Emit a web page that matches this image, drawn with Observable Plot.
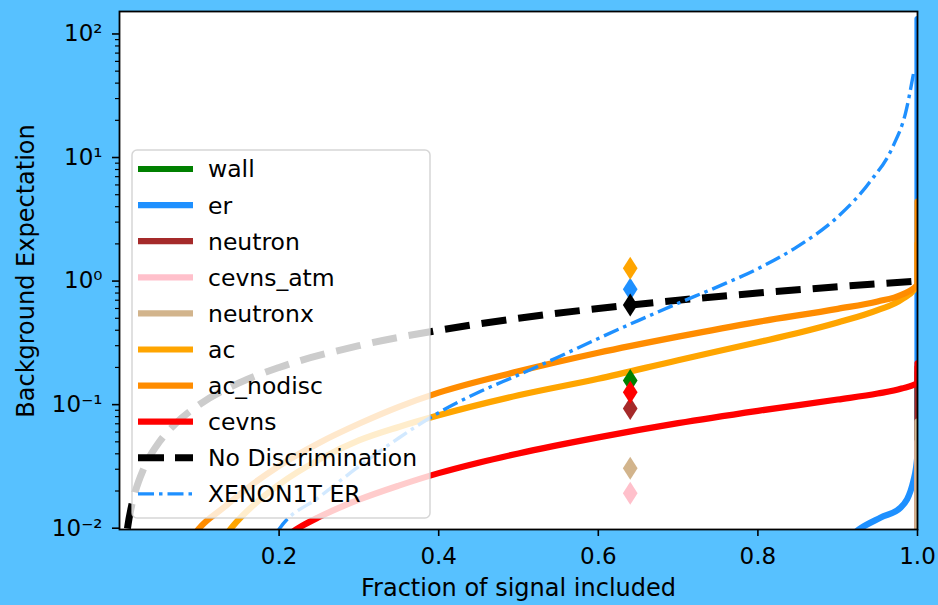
<!DOCTYPE html>
<html><head><meta charset="utf-8">
<script src="https://cdn.jsdelivr.net/npm/d3@7"></script>
<script src="https://cdn.jsdelivr.net/npm/@observablehq/plot@0.6"></script>
<style>
html,body{margin:0;padding:0;background:#57c1ff;}
#chart svg{display:block;}
</style></head><body><div id="chart"></div>
<script>
// ---------- data ----------
const seriesNames = ["wall","er","neutron","cevns_atm","neutronx","ac","ac_nodisc","cevns"];
const seriesColors = ["green","dodgerblue","brown","pink","tan","orange","darkorange","red"];

const wallF = [0.95, 1.0, 1.0];
const wallV = [0.0005, 0.0005, 0.18];
const erF = [0.90, 0.929, 0.954, 0.979, 0.995, 1.0, 1.0];
const erV = [0.007, 0.010, 0.0122, 0.0147, 0.0243, 0.04, 132];
const neutronF = [0.95, 1.0, 1.0];
const neutronV = [0.0005, 0.0005, 0.2];
const cevnsAtmF = [0.95, 1.0, 1.0];
const cevnsAtmV = [0.0005, 0.0005, 0.05];
const neutronxF = [0.95, 1.0, 1.0];
const neutronxV = [0.0005, 0.0005, 0.073];
const acF = [0.12, 0.14, 0.17, 0.20, 0.25, 0.30, 0.35, 0.40, 0.50, 0.60, 0.70, 0.80, 0.85, 0.90, 0.95, 0.98, 1.0, 1.0];
const acV = [0.0065, 0.010, 0.0158, 0.0226, 0.0359, 0.0513, 0.066, 0.082, 0.119, 0.162, 0.229, 0.320, 0.380, 0.462, 0.582, 0.708, 0.933, 2.0];
const acNodiscF = [0.08, 0.10, 0.13, 0.16, 0.20, 0.25, 0.30, 0.35, 0.40, 0.50, 0.60, 0.70, 0.80, 0.90, 0.95, 0.98, 1.0, 1.0];
const acNodiscV = [0.0065, 0.010, 0.0146, 0.021, 0.032, 0.049, 0.070, 0.096, 0.125, 0.186, 0.263, 0.355, 0.468, 0.596, 0.684, 0.776, 0.933, 4.4];
const cevnsF = [0.20, 0.224, 0.25, 0.30, 0.35, 0.40, 0.45, 0.50, 0.60, 0.70, 0.80, 0.90, 0.95, 0.98, 1.0, 1.0];
const cevnsV = [0.0078, 0.010, 0.0123, 0.0170, 0.0221, 0.0279, 0.0339, 0.0403, 0.0543, 0.0708, 0.0891, 0.110, 0.123, 0.135, 0.150, 0.216];

const noDiscF = [0.005, 0.01, 0.015, 0.02, 0.03, 0.05, 0.07, 0.1, 0.15, 0.2, 0.3, 0.4, 0.5, 0.6, 0.7, 0.8, 0.9, 1.0];
const noDiscV = [0.005, 0.01, 0.015, 0.02, 0.03, 0.05, 0.07, 0.1, 0.15, 0.2, 0.3, 0.4, 0.5, 0.6, 0.7, 0.8, 0.9, 1.0];
const xenonF = [0.18, 0.20, 0.25, 0.30, 0.35, 0.40, 0.45, 0.50, 0.55, 0.60, 0.65, 0.70, 0.75, 0.80, 0.85, 0.90, 0.94, 0.97, 0.985, 0.995];
const xenonV = [0.0058, 0.0098, 0.0178, 0.0316, 0.0537, 0.0861, 0.126, 0.174, 0.243, 0.343, 0.479, 0.661, 0.902, 1.26, 1.91, 3.31, 6.31, 12.6, 22.9, 47.9];

// diamonds at the chosen working point
const diamondNames = ["wall","er","neutron","cevns_atm","neutronx","ac","cevns","No Discrimination"];
const diamondColors = ["green","dodgerblue","brown","pink","tan","orange","red","black"];
const diamondF = [0.64, 0.64, 0.64, 0.64, 0.64, 0.64, 0.64, 0.64];
const diamondV = [0.157, 0.857, 0.093, 0.0192, 0.0305, 1.27, 0.126, 0.64];

const xTicks = [0.2, 0.4, 0.6, 0.8, 1.0];
const yTicks = [0.01, 0.1, 1, 10, 100];
const yTickLabels = ["10⁻²", "10⁻¹", "10⁰", "10¹", "10²"];
const yMinor = [];
for (const d of [0.01, 0.1, 1, 10, 100]) for (let k = 2; k <= 9; k++) if (d * k < 150) yMinor.push(d * k);

const legendLabels = ["wall","er","neutron","cevns_atm","neutronx","ac","ac_nodisc","cevns","No Discrimination","XENON1T ER"];
const legendColors = ["green","dodgerblue","brown","pink","tan","orange","darkorange","red","black","dodgerblue"];
const xLabel = "Fraction of signal included";
const yLabel = "Background Expectation";

// ---------- build ----------
const BG = "#57c1ff";
const FONT = "DejaVu Sans";
const LW = 6.2;
const seriesF = [wallF, erF, neutronF, cevnsAtmF, neutronxF, acF, acNodiscF, cevnsF];
const seriesV = [wallV, erV, neutronV, cevnsAtmV, neutronxV, acV, acNodiscV, cevnsV];
const toRows = (F, V) => F.map((f, i) => ({f, v: V[i]}));

const thinDiamond = {
  draw(context, size) {
    const r = Math.sqrt(size / Math.PI);
    context.moveTo(0, -r);
    context.lineTo(0.64 * r, 0);
    context.lineTo(0, r);
    context.lineTo(-0.64 * r, 0);
    context.closePath();
  }
};

const marks = [Plot.frame({fill: "white"})];
seriesNames.forEach((n, i) => {
  marks.push(Plot.line(toRows(seriesF[i], seriesV[i]), {x: "f", y: "v", stroke: seriesColors[i], strokeWidth: LW, clip: true, curve: "monotone-x"}));
});
marks.push(Plot.line(toRows(noDiscF, noDiscV), {x: "f", y: "v", stroke: "black", strokeWidth: 7, strokeDasharray: "25,12", strokeLinecap: "butt", clip: true, curve: "monotone-x"}));
marks.push(Plot.line(toRows(xenonF, xenonV), {x: "f", y: "v", stroke: "dodgerblue", strokeWidth: 3.4, strokeDasharray: "16,5,3.5,5", strokeLinecap: "butt", clip: true, curve: "monotone-x"}));
diamondNames.forEach((n, i) => {
  marks.push(Plot.dot([{f: diamondF[i], v: diamondV[i]}], {x: "f", y: "v", fill: diamondColors[i], stroke: "none", r: 11.5, symbol: thinDiamond}));
});
marks.push(Plot.frame({stroke: "black", strokeWidth: 1.8}));
marks.push(Plot.axisX({ticks: xTicks, tickSize: 7, tickPadding: 11, tickFormat: d => d.toFixed(1), fontSize: 23, strokeWidth: 1.6, label: null}));
marks.push(Plot.axisY({ticks: yMinor, tickSize: 4, tickFormat: () => "", strokeWidth: 1.2, label: null}));
marks.push(Plot.axisY({ticks: yTicks, tickSize: 7, tickPadding: 10, tickFormat: d => yTickLabels[yTicks.indexOf(d)], fontSize: 23, strokeWidth: 1.6, label: null}));
marks.push(Plot.text([xLabel], {text: d => d, frameAnchor: "bottom", dy: 59, fontSize: 24, lineAnchor: "middle"}));

const plot = Plot.plot({
  width: 938, height: 605,
  marginLeft: 119, marginRight: 21, marginTop: 11, marginBottom: 76,
  style: {background: BG, fontFamily: FONT, color: "black", overflow: "visible"},
  x: {domain: [0, 1], axis: null},
  y: {type: "log", domain: [0.00976, 152], axis: null},
  marks
});

// ---------- y title and legend ----------
const svg = d3.select(plot);
svg.append("text").attr("transform", "translate(25,271) rotate(-90)")
  .attr("text-anchor", "middle").attr("dy", "0.36em")
  .attr("font-family", FONT).attr("font-size", 24).attr("fill", "black").text(yLabel);

const lg = svg.append("g").attr("font-family", FONT).attr("font-size", 23.5).attr("text-anchor", "start");
lg.append("rect").attr("x", 132).attr("y", 150).attr("width", 298).attr("height", 368).attr("rx", 5)
  .attr("fill", "white").attr("fill-opacity", 0.8).attr("stroke", "#cccccc").attr("stroke-opacity", 0.8).attr("stroke-width", 1.5);
legendLabels.forEach((lab, i) => {
  const cy = 169 + 36.1 * i;
  const ln = lg.append("line").attr("x1", 138).attr("x2", 193).attr("y1", cy).attr("y2", cy)
    .attr("stroke", legendColors[i]);
  if (lab === "No Discrimination") ln.attr("stroke-width", 7).attr("stroke-dasharray", "26,11");
  else if (lab === "XENON1T ER") ln.attr("stroke-width", 3.4).attr("stroke-dasharray", "16,5,3.5,5");
  else ln.attr("stroke-width", LW);
  lg.append("text").attr("x", 208).attr("y", cy).attr("dy", "0.36em").attr("fill", "black").attr("text-anchor", "start").text(lab);
});

document.getElementById("chart").appendChild(plot);
</script></body></html>
